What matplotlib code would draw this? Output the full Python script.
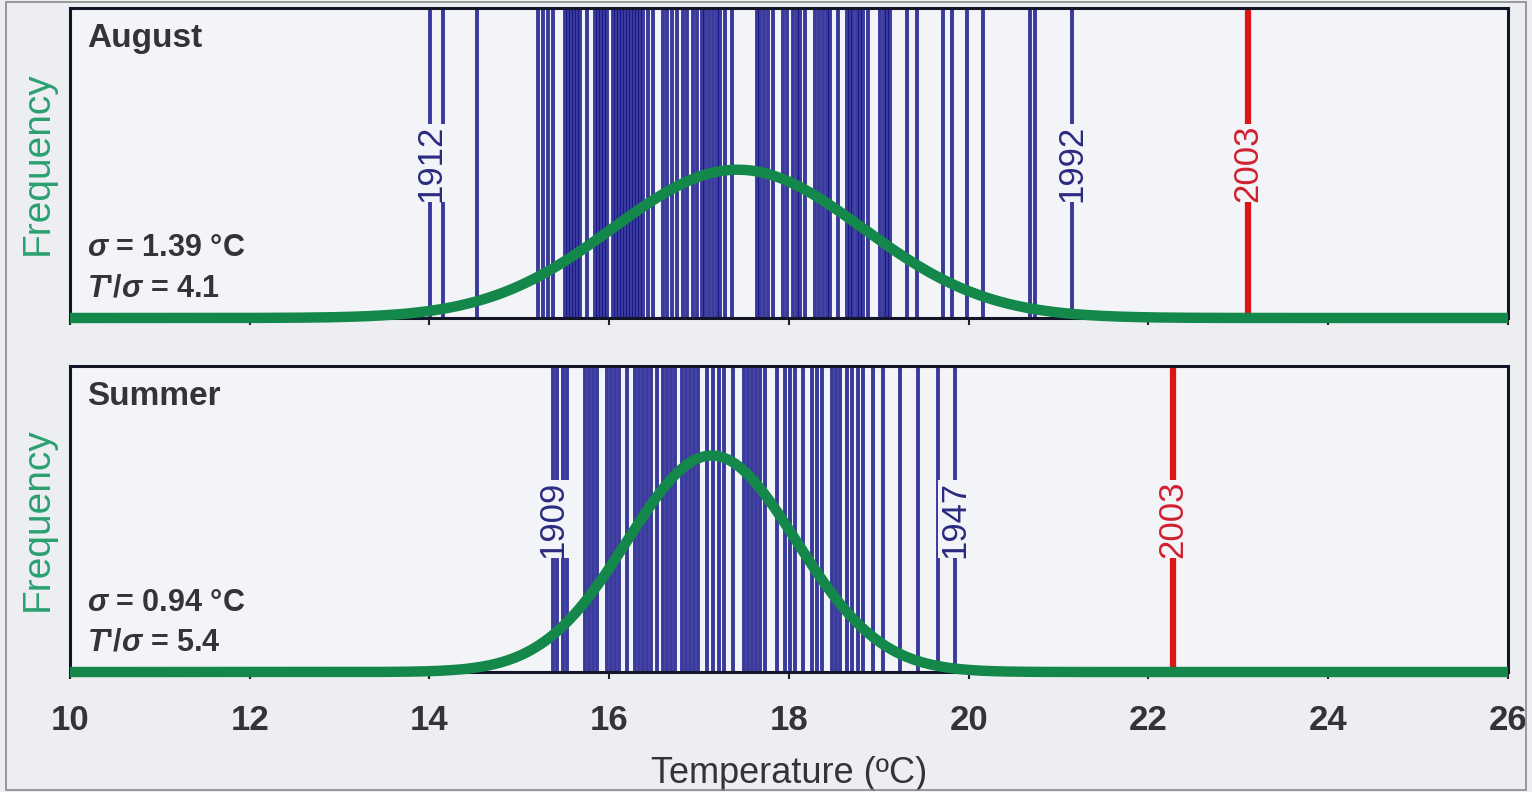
import numpy as np
import matplotlib
matplotlib.use('Agg')
import matplotlib.pyplot as plt
from matplotlib.patches import Rectangle

august_temps = [14.01, 14.15, 14.53, 15.21, 15.26, 15.32, 15.37, 15.51, 15.54, 15.57,
                15.61, 15.64, 15.67, 15.75, 15.84, 15.87, 15.91, 15.94, 15.97, 16.04,
                16.08, 16.11, 16.14, 16.18, 16.21, 16.24, 16.28, 16.31, 16.34, 16.38,
                16.43, 16.49, 16.60, 16.64, 16.70, 16.75, 16.82, 16.87, 16.93, 16.98,
                17.03, 17.07, 17.11, 17.15, 17.20, 17.23, 17.29, 17.37, 17.64, 17.68,
                17.72, 17.77, 17.82, 17.93, 17.98, 18.04, 18.09, 18.12, 18.18, 18.29,
                18.33, 18.38, 18.42, 18.46, 18.55, 18.65, 18.68, 18.71, 18.76, 18.79,
                18.82, 18.88, 19.01, 19.06, 19.09, 19.12, 19.31, 19.42, 19.71, 19.81,
                19.98, 20.16, 20.68, 20.74, 21.15]
august_2003 = 23.11
august_mean = 17.43
august_sigma = 1.39
august_ratio = 4.1
august_label_years = ['1912', '1992']
august_label_temps = [14.01, 21.15]

# Summer (JJA)
summer_temps = [15.37, 15.42, 15.49, 15.53, 15.73, 15.77, 15.82, 15.86, 15.97, 16.02,
                16.06, 16.11, 16.20, 16.29, 16.33, 16.38, 16.42, 16.46, 16.53, 16.60,
                16.64, 16.69, 16.73, 16.81, 16.85, 16.90, 16.94, 16.99, 17.09, 17.15,
                17.22, 17.28, 17.38, 17.50, 17.54, 17.59, 17.63, 17.68, 17.73, 17.87,
                17.96, 18.01, 18.07, 18.16, 18.26, 18.31, 18.37, 18.48, 18.52, 18.57,
                18.65, 18.70, 18.77, 18.82, 18.93, 19.05, 19.24, 19.44, 19.66, 19.85]
summer_2003 = 22.27
summer_mean = 17.14
summer_sigma = 0.94
summer_ratio = 5.4
summer_label_years = ['1909', '1947']
summer_label_temps = [15.37, 19.85]

xticks = [10, 12, 14, 16, 18, 20, 22, 24, 26]

plt.rcParams['font.family'] = ['Liberation Sans', 'DejaVu Sans']
plt.rcParams['mathtext.fontset'] = 'custom'
plt.rcParams['mathtext.it'] = 'Liberation Sans:italic:bold'
plt.rcParams['mathtext.rm'] = 'Liberation Sans:bold'

FIG_BG = '#eceef2'
AX_BG = '#f3f4f7'
BLUE = '#0c0c86'
RED = '#dd1515'
GREEN = '#13884a'
TEXT = '#333338'
YMAX = 0.6

fig = plt.figure(figsize=(15.32, 7.92), dpi=100, facecolor=FIG_BG)
fig.patches.append(Rectangle((0.004, 0.002), 0.992, 0.996, transform=fig.transFigure,
                             fill=False, edgecolor='#888888', linewidth=1.2))

ax_top = fig.add_axes([0.0457, 0.5985, 0.9386, 0.3914])
ax_bot = fig.add_axes([0.0457, 0.1515, 0.9386, 0.3864])


def draw_panel(ax, name, temps, t2003, mean, sigma, ratio, label_years, label_temps):
    ax.set_facecolor(AX_BG)
    ax.set_xlim(10, 26)
    ax.set_ylim(0, YMAX)

    # one line per year
    ax.vlines(temps, 0, YMAX, color=BLUE, alpha=0.8, linewidth=2.8, zorder=2)
    ax.vlines([t2003], 0, YMAX, color=RED, linewidth=4.5, zorder=3)

    # year labels sitting on the lines
    box = dict(facecolor=AX_BG, edgecolor='none', pad=0.5)
    for yr, t in zip(label_years, label_temps):
        ax.text(t, 0.5 * YMAX, yr, rotation=90, ha='center', va='center',
                fontsize=25, color='#2a2a80', bbox=box, zorder=4)
    ax.text(t2003, 0.5 * YMAX, '2003', rotation=90, ha='center', va='center',
            fontsize=25, color='#d02030', bbox=box, zorder=4)

    # normal distribution fit
    x = np.linspace(10, 26, 600)
    y = np.exp(-(x - mean) ** 2 / (2 * sigma ** 2)) / (sigma * np.sqrt(2 * np.pi))
    ax.plot(x, y, color=GREEN, linewidth=7.5, solid_capstyle='butt', clip_on=False, zorder=6)

    ax.text(0.012, 0.95, name, transform=ax.transAxes, ha='left', va='top',
            fontsize=24, fontweight='bold', color=TEXT, zorder=5)
    ax.text(0.012, 0.225, r'$\sigma$ = %.2f °C' % sigma, transform=ax.transAxes,
            ha='left', va='center', fontsize=22, fontweight='bold', color=TEXT, zorder=5)
    ax.text(0.012, 0.095, r"$T$'/$\sigma$ = %.1f" % ratio, transform=ax.transAxes,
            ha='left', va='center', fontsize=22, fontweight='bold', color=TEXT, zorder=5)

    ax.set_ylabel('Frequency', fontsize=28, color='#2aa070', labelpad=10)
    ax.set_yticks([])
    ax.set_xticks(xticks)
    ax.tick_params(axis='x', direction='out', length=5, width=1.5, colors='#222222',
                   labelsize=25, labelcolor=TEXT, pad=18)
    for lbl in ax.get_xticklabels():
        lbl.set_fontweight('bold')
    for s in ax.spines.values():
        s.set_linewidth(2.2)
        s.set_color('#15152a')
        s.set_zorder(5)


draw_panel(ax_top, 'August', august_temps, august_2003, august_mean, august_sigma,
           august_ratio, august_label_years, august_label_temps)
draw_panel(ax_bot, 'Summer', summer_temps, summer_2003, summer_mean, summer_sigma,
           summer_ratio, summer_label_years, summer_label_temps)

ax_top.tick_params(axis='x', labelbottom=False)
ax_bot.set_xlabel('Temperature (ºC)', fontsize=26, color=TEXT, labelpad=14)

fig.savefig('out.png', dpi=100, facecolor=FIG_BG)
